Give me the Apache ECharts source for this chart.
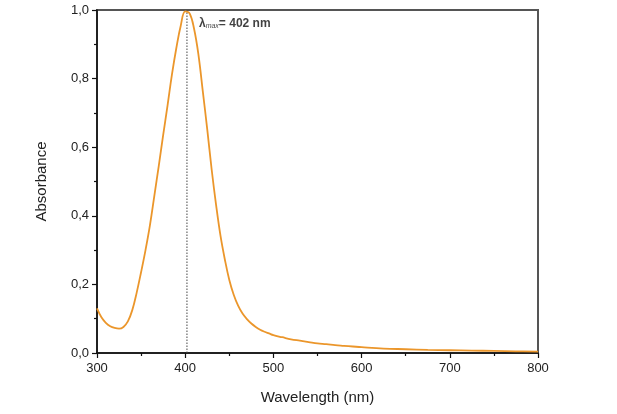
<!DOCTYPE html>
<html>
<head>
<meta charset="utf-8">
<script src="https://cdn.jsdelivr.net/npm/echarts@6/dist/echarts.min.js"></script>
<style>
html,body{margin:0;padding:0;background:#fff;}
#chart{width:617px;height:414px;}
</style>
</head>
<body>
<div id="chart"></div>
<script>
var wavelengths = [300,305,310,315,320,325,330,335,340,345,350,355,360,365,370,375,380,385,390,395,400,405,410,415,420,425,430,435,440,445,450,455,460,465,470,475,480,485,490,495,500,510,520,530,540,550,560,570,580,590,600,625,650,675,700,725,750,775,800];
var absorbance  = [0.130,0.104,0.088,0.078,0.073,0.071,0.076,0.092,0.125,0.176,0.236,0.300,0.372,0.458,0.545,0.635,0.722,0.812,0.890,0.955,0.996,0.990,0.946,0.870,0.762,0.652,0.535,0.432,0.342,0.272,0.213,0.170,0.138,0.115,0.099,0.086,0.076,0.068,0.062,0.057,0.052,0.046,0.040,0.036,0.032,0.028,0.026,0.023,0.021,0.019,0.017,0.013,0.011,0.009,0.008,0.007,0.006,0.005,0.004];
var peakWavelength = 402;
var peakLabel = ['λ','max','= 402 nm'];
var yTickLabels = ['0,0','0,2','0,4','0,6','0,8','1,0'];
var xAxisName = 'Wavelength (nm)';
var yAxisName = 'Absorbance';

var curve = wavelengths.map(function(w,i){return [w, absorbance[i]];});
var peakLine = [[peakWavelength,0],[peakWavelength,1]];
var font = 'Liberation Sans, Arial, sans-serif';

var chart = echarts.init(document.getElementById('chart'), null, {renderer:'canvas'});
chart.setOption({
  animation:false,
  backgroundColor:'#fff',
  grid:{left:97,right:79,top:10,bottom:61,show:true,borderColor:'#555',borderWidth:2,backgroundColor:'transparent'},
  xAxis:{
    type:'value',min:300,max:800,interval:100,
    name:xAxisName,nameLocation:'middle',nameGap:37,
    nameTextStyle:{fontFamily:font,fontSize:15,color:'#222'},
    axisLine:{lineStyle:{color:'#111',width:1.5}},
    axisTick:{show:true,inside:false,length:5,lineStyle:{color:'#111',width:1.2}},
    minorTick:{show:true,splitNumber:2,length:3,lineStyle:{color:'#111',width:1.2}},
    splitLine:{show:false},
    axisLabel:{fontFamily:font,fontSize:13,color:'#222',margin:9}
  },
  yAxis:{
    type:'value',min:0,max:1,interval:0.2,
    name:yAxisName,nameLocation:'middle',nameGap:48,nameRotate:90,
    nameTextStyle:{fontFamily:font,fontSize:15,color:'#222'},
    axisLine:{show:true,lineStyle:{color:'#111',width:1.5}},
    axisTick:{show:true,inside:false,length:5,lineStyle:{color:'#111',width:1.2}},
    minorTick:{show:true,splitNumber:2,length:3,lineStyle:{color:'#111',width:1.2}},
    splitLine:{show:false},
    axisLabel:{fontFamily:font,fontSize:13,color:'#222',margin:8,
      formatter:function(v){return yTickLabels[Math.round(v*5)];}}
  },
  series:[
    {
      type:'line',data:peakLine,symbol:'none',silent:true,
      lineStyle:{color:'#444',width:1,type:[1.5,1.5]},
      z:1
    },
    {
      type:'line',data:curve,smooth:0.4,symbol:'none',
      lineStyle:{color:'#EB962B',width:1.8},
      z:2
    },
    {
      type:'scatter',data:[[peakWavelength,1]],symbolSize:0,silent:true,
      label:{show:true,position:'right',offset:[7,14],
        formatter:'{l|'+peakLabel[0]+'}{s|'+peakLabel[1]+'}{b|'+peakLabel[2]+'}',
        rich:{
          l:{fontFamily:font,fontSize:12,fontWeight:'bold',color:'#111'},
          s:{fontFamily:font,fontSize:7,fontStyle:'italic',color:'#111',verticalAlign:'bottom',padding:[5,0,0,0]},
          b:{fontFamily:font,fontSize:12,fontWeight:'bold',color:'#111'}
        }
      },
      z:3
    }
  ]
});
</script>
</body>
</html>
